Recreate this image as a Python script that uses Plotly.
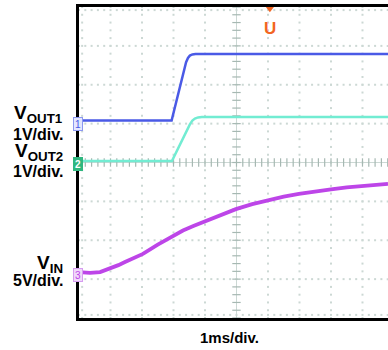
import numpy as np
import plotly.graph_objects as go

# ---- data (scope divisions: x 0..10 div, y 0..8 div) ----
t_vout1 = [0, 2.94, 3.40, 3.46, 3.52, 3.60, 3.70, 9.81]
v_vout1 = [5.08, 5.08, 6.58, 6.69, 6.75, 6.78, 6.79, 6.79]

t_vout2 = [0, 2.95, 3.52, 3.60, 3.68, 3.78, 3.90, 9.81]
v_vout2 = [4.04, 4.04, 4.98, 5.08, 5.13, 5.16, 5.17, 5.17]

t_vin = [0, 0.35, 0.67, 0.98, 1.25, 1.46, 1.75, 2.03, 2.5, 2.98, 3.3, 3.65, 4.0, 4.32, 4.65,
         4.98, 5.5, 5.97, 6.5, 6.98, 7.5, 8.0, 8.5, 8.98, 9.4, 9.81]
v_vin = [1.18, 1.16, 1.18, 1.27, 1.36, 1.44, 1.54, 1.65, 1.89, 2.12, 2.25, 2.37, 2.48, 2.57, 2.69,
         2.80, 2.93, 3.03, 3.12, 3.19, 3.26, 3.31, 3.36, 3.40, 3.43, 3.45]

trigger_t = 6.06
vin_ref_level = 3.01
x_divs = 10
y_divs = 8
x_view = 9.81

# ---- geometry ----
W, H = 388, 350
ML, MR, MT, MB = 79, 0, 7, 32
PW, PH = W - ML - MR, H - MT - MB
def px(x):
    return (x - ML) / PW
def py(y):
    return (H - MB - y) / PH

BLUE = "#4a5ae6"
CYAN = "#72ecd2"
MAG = "#bd45e8"
GRID = "#ccd8d4"
CGRID = "#a6b8b2"
FONT = "Liberation Sans, Arial, sans-serif"

fig = go.Figure()

# grid dots
gx, gy = [], []
minor_y = np.arange(0, y_divs + 0.001, 0.2)
minor_x = np.arange(0, x_view + 0.001, 0.2)
for xv in range(1, x_divs):
    if xv == 5:
        continue
    gx += [xv] * len(minor_y)
    gy += list(minor_y)
for yv in range(1, y_divs):
    if yv == 4:
        continue
    gx += list(minor_x)
    gy += [yv] * len(minor_x)
# edge ticks
gx += list(minor_x); gy += [y_divs - 0.08] * len(minor_x)
gx += list(minor_x); gy += [0.08] * len(minor_x)
gx += [0.1] * len(minor_y); gy += list(minor_y)
fig.add_trace(go.Scatter(x=gx, y=gy, mode="markers", hoverinfo="skip",
                         marker=dict(symbol="square", size=2, color=GRID, line=dict(width=0)),
                         showlegend=False))
# centre lines with ticks
fig.add_trace(go.Scatter(x=[5, 5], y=[0, y_divs], mode="lines", line=dict(color=GRID, width=1),
                         hoverinfo="skip", showlegend=False))
fig.add_trace(go.Scatter(x=[0, x_view], y=[4, 4], mode="lines", line=dict(color=GRID, width=1),
                         hoverinfo="skip", showlegend=False))
fig.add_trace(go.Scatter(x=[5] * len(minor_y), y=minor_y, mode="markers", hoverinfo="skip",
                         marker=dict(symbol="line-ew", size=6, line=dict(color=CGRID, width=1.2)),
                         showlegend=False))
fig.add_trace(go.Scatter(x=minor_x, y=[4] * len(minor_x), mode="markers", hoverinfo="skip",
                         marker=dict(symbol="line-ns", size=6, line=dict(color=CGRID, width=1.2)),
                         showlegend=False))

# traces
fig.add_trace(go.Scatter(x=t_vin, y=v_vin, mode="lines", line=dict(color=MAG, width=3.8),
                         showlegend=False))
fig.add_trace(go.Scatter(x=t_vout2, y=v_vout2, mode="lines", line=dict(color=CYAN, width=2.5),
                         showlegend=False))
fig.add_trace(go.Scatter(x=t_vout1, y=v_vout1, mode="lines", line=dict(color=BLUE, width=2.5),
                         showlegend=False))

# reference diamond (right) and trigger marker (top)
fig.add_trace(go.Scatter(x=[9.873], y=[vin_ref_level], mode="markers", cliponaxis=False,
                         marker=dict(symbol="diamond", size=11, color=MAG), showlegend=False))
fig.add_trace(go.Scatter(x=[trigger_t], y=[y_divs - 0.03], mode="markers", cliponaxis=False,
                         marker=dict(symbol="triangle-down", size=8, color="#f26522"), showlegend=False))

ann = []
ann.append(dict(x=trigger_t, y=py(17), xref="x", yref="paper", text="<b>U</b>", showarrow=False,
                font=dict(family=FONT, size=17, color="#f26522")))

# channel markers
def chan(label, yv, fg, bg, border, fsize=10):
    return dict(x=px(72.5), y=yv, xref="paper", yref="y", text=label, showarrow=False,
                font=dict(family=FONT, size=fsize, color=fg), bgcolor=bg, bordercolor=border,
                borderwidth=1, borderpad=0, width=8, height=12, yshift=-3)
ann.append(chan("1", v_vout1[0], BLUE, "#e4e7ff", "#8c98f0"))
ann.append(chan("<b>2</b>", v_vout2[0], "white", "#2fb77f", "#2fb77f"))
ann.append(chan("3", v_vin[0], MAG, "#f0d8fa", "#d69cf0"))

def label(text, x_right, y_mid, size):
    return dict(x=px(x_right), y=py(y_mid), xref="paper", yref="paper", text=text, showarrow=False,
                xanchor="right", yanchor="middle", font=dict(family=FONT, size=size, color="black"))

ann.append(label("<b>V<sub>OUT1</sub></b>", 65, 114, 19))
ann.append(label("<b>1V/div.</b>", 65, 134, 16))
ann.append(label("<b>V<sub>OUT2</sub></b>", 65, 152, 19))
ann.append(label("<b>1V/div.</b>", 65, 171, 16))
ann.append(label("<b>V<sub>IN</sub></b>", 65, 264, 19))
ann.append(label("<b>5V/div.</b>", 65, 280, 16))
ann.append(dict(x=px(229), y=py(337), xref="paper", yref="paper", text="<b>1ms/div.</b>", showarrow=False,
                xanchor="center", yanchor="middle", font=dict(family=FONT, size=15, color="black")))

fig.update_layout(
    width=W, height=H, margin=dict(l=ML, r=MR, t=MT, b=MB),
    paper_bgcolor="white", plot_bgcolor="white",
    xaxis=dict(range=[0, x_view], showgrid=False, zeroline=False, showticklabels=False, ticks="",
               showline=True, linecolor="black", linewidth=3, mirror=True, fixedrange=True),
    yaxis=dict(range=[0, y_divs], showgrid=False, zeroline=False, showticklabels=False, ticks="",
               showline=True, linecolor="black", linewidth=3, mirror=False, fixedrange=True),
    annotations=ann,
)
fig.write_html("out.html")
